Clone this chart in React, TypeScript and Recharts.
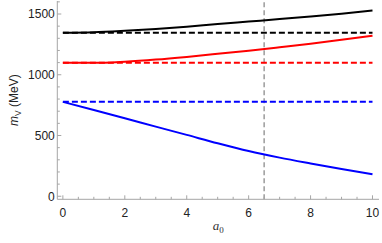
import React from "react";
import { LineChart, Line, XAxis, YAxis, ReferenceLine } from "recharts";

// a0 grid and the three running masses (MeV)
const a0Values = [0, 1, 2, 3, 4, 5, 6, 7, 8, 9, 10];
const blackSolid = [1346, 1350, 1362, 1377, 1396, 1418, 1438, 1458, 1480, 1503, 1528];
const redSolid = [1099, 1098, 1108, 1125, 1147, 1172, 1198, 1226, 1255, 1288, 1322];
const blueSolid = [777, 710, 642, 573, 505, 436, 372, 318, 270, 224, 181];

// reference masses (dashed)
const blackRef = 1346;
const redRef = 1099;
const blueRef = 777;

const markerA0 = 6.5;

const xTicks = [0, 0.5, 1, 1.5, 2, 2.5, 3, 3.5, 4, 4.5, 5, 5.5, 6, 6.5, 7, 7.5, 8, 8.5, 9, 9.5, 10];
const yTicks = [0, 100, 200, 300, 400, 500, 600, 700, 800, 900, 1000, 1100, 1200, 1300, 1400, 1500, 1600];

const data = a0Values.map((a, i) => ({
  a0: a,
  black: blackSolid[i],
  red: redSolid[i],
  blue: blueSolid[i],
  blackD: blackRef,
  redD: redRef,
  blueD: blueRef,
}));

const FRAME = "#a6a6a6";
const FONT = "'Liberation Sans', Arial, sans-serif";

const isMajorX = (v: number) => Math.abs(v % 2) < 1e-6;
const isMajorY = (v: number) => Math.abs(v % 500) < 1e-6;

const BottomTick = (props: any) => {
  const { x, y, payload } = props;
  const major = isMajorX(payload.value);
  return (
    <g>
      <line x1={x} x2={x} y1={y} y2={y - (major ? 4 : 2.5)} stroke={FRAME} />
      {major && (
        <text x={x} y={y + 17.5} textAnchor="middle" fontSize={12} fontFamily={FONT} fill="#222">
          {payload.value}
        </text>
      )}
    </g>
  );
};

const TopTick = (props: any) => {
  const { x, y, payload } = props;
  const major = isMajorX(payload.value);
  return <line x1={x} x2={x} y1={y} y2={y + (major ? 4 : 2.5)} stroke={FRAME} />;
};

const LeftTick = (props: any) => {
  const { x, y, payload } = props;
  const major = isMajorY(payload.value);
  return (
    <g>
      <line x1={x} x2={x + (major ? 4 : 2.5)} y1={y} y2={y} stroke={FRAME} />
      {major && (
        <text x={x - 2.5} y={y + 4.3} textAnchor="end" fontSize={12} fontFamily={FONT} fill="#222">
          {payload.value}
        </text>
      )}
    </g>
  );
};

const RightTick = (props: any) => {
  const { x, y, payload } = props;
  const major = isMajorY(payload.value);
  return <line x1={x} x2={x - (major ? 4 : 2.5)} y1={y} y2={y} stroke={FRAME} />;
};

const XTitle = (props: any) => {
  const { viewBox } = props;
  const cx = viewBox.x + viewBox.width / 2;
  return (
    <text x={cx} y={229.5} textAnchor="middle" fontFamily="'Liberation Serif', 'Times New Roman', serif" fontSize={13} fill="#333">
      <tspan fontStyle="italic">a</tspan>
      <tspan fontSize={9} dy={3}>0</tspan>
    </text>
  );
};

const YTitle = (props: any) => {
  const { viewBox } = props;
  const cy = viewBox.y + viewBox.height / 2;
  const cx = 14;
  return (
    <text
      x={cx}
      y={cy}
      transform={`rotate(-90, ${cx}, ${cy})`}
      textAnchor="middle"
      dy={4}
      fontFamily={FONT}
      fontSize={12}
      fill="#222"
    >
      <tspan fontStyle="italic">m</tspan>
      <tspan fontSize={8.5} dy={3}>V</tspan>
      <tspan dy={-3}> (MeV)</tspan>
    </text>
  );
};

export default function App() {
  return (
    <div style={{ position: "absolute", left: 0, top: 0, width: 382, height: 243, background: "#fff" }}>
      <LineChart width={382} height={243} data={data} margin={{ top: 1, right: 3, bottom: 0, left: 0 }}>
        <XAxis
          xAxisId="b"
          dataKey="a0"
          type="number"
          domain={[-0.18, 10.21]}
          ticks={xTicks}
          interval={0}
          height={43.7}
          tickSize={0}
          tickMargin={0}
          tickLine={false}
          axisLine={{ stroke: FRAME }}
          tick={BottomTick}
          allowDataOverflow
          label={<XTitle />}
        />
        <XAxis
          xAxisId="t"
          orientation="top"
          dataKey="a0"
          type="number"
          domain={[-0.18, 10.21]}
          ticks={xTicks}
          interval={0}
          height={0}
          tickSize={0}
          tickMargin={0}
          tickLine={false}
          axisLine={{ stroke: FRAME }}
          tick={TopTick}
          allowDataOverflow
        />
        <YAxis
          yAxisId="l"
          type="number"
          domain={[-25, 1607]}
          ticks={yTicks}
          interval={0}
          width={57.3}
          tickSize={0}
          tickMargin={0}
          tickLine={false}
          axisLine={{ stroke: FRAME }}
          tick={LeftTick}
          allowDataOverflow
          label={<YTitle />}
        />
        <YAxis
          yAxisId="r"
          orientation="right"
          type="number"
          domain={[-25, 1607]}
          ticks={yTicks}
          interval={0}
          width={0}
          tickSize={0}
          tickMargin={0}
          tickLine={false}
          axisLine={{ stroke: FRAME }}
          tick={RightTick}
          allowDataOverflow
        />
        <ReferenceLine xAxisId="b" yAxisId="l" x={markerA0} stroke="#8c8c8c" strokeWidth={1.3} strokeDasharray="5 3" />
        <Line xAxisId="b" yAxisId="l" dataKey="blackD" stroke="#000" strokeWidth={2} strokeDasharray="6 3" dot={false} isAnimationActive={false} />
        <Line xAxisId="b" yAxisId="l" dataKey="redD" stroke="#ff0000" strokeWidth={2} strokeDasharray="6 3" dot={false} isAnimationActive={false} />
        <Line xAxisId="b" yAxisId="l" dataKey="blueD" stroke="#0000ff" strokeWidth={2} strokeDasharray="6 3" dot={false} isAnimationActive={false} />
        <Line xAxisId="b" yAxisId="l" type="monotone" dataKey="black" stroke="#000" strokeWidth={2} dot={false} isAnimationActive={false} />
        <Line xAxisId="b" yAxisId="l" type="monotone" dataKey="red" stroke="#ff0000" strokeWidth={2} dot={false} isAnimationActive={false} />
        <Line xAxisId="b" yAxisId="l" type="monotone" dataKey="blue" stroke="#0000ff" strokeWidth={2} dot={false} isAnimationActive={false} />
      </LineChart>
    </div>
  );
}
